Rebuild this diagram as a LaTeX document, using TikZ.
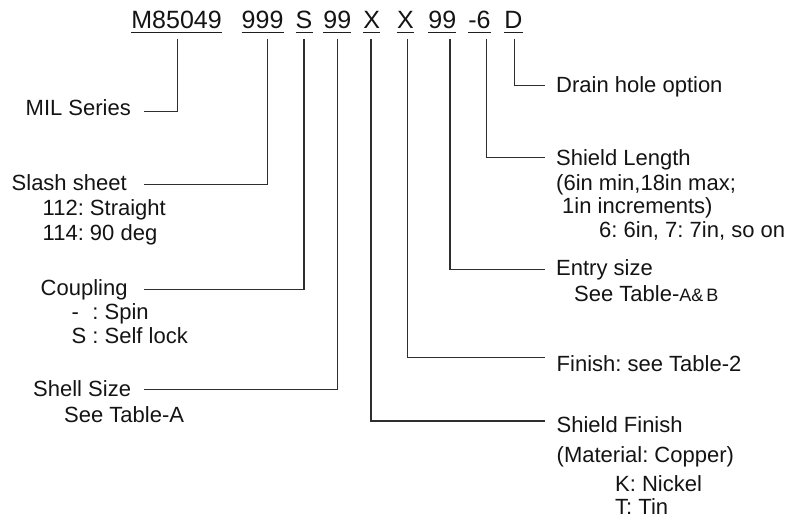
\documentclass[tikz,border=0pt]{standalone}
\usepackage{fontspec}
\setmainfont{Liberation Sans}
\frenchspacing
\begin{document}
\begin{tikzpicture}[x=1pt,y=-1pt,
  codetext/.style={anchor=base west,inner sep=0pt,font=\fontsize{25}{28}\selectfont,text=black!92},
  labeltext/.style={anchor=base west,inner sep=0pt,font=\fontsize{22}{25}\selectfont,text=black!92},
  uline/.style={line width=1.5pt,black!88},
  leader/.style={line width=1.4pt,black!82}]
\useasboundingbox (0,0) rectangle (796,519);
\fill[white] (0,0) rectangle (796,519);
% code row
\node[codetext] (cM)  at (131.2,28.5) {M85049};
\node[codetext] (cSl) at (241.5,28.5) {999};
\node[codetext] (cS)  at (295.5,28.5) {S};
\node[codetext] (cSz) at (323.2,28.5) {99};
\node[codetext] (cX1) at (363.2,28.5) {X};
\node[codetext] (cX2) at (396.8,28.5) {X};
\node[codetext] (cEn) at (428.2,28.5) {99};
\node[codetext] (cLn) at (468.2,28.5) {-6};
\node[codetext] (cD)  at (504.2,28.5) {D};
\foreach \n in {cM,cSl,cS,cSz,cX1,cX2,cEn,cLn,cD}
  \draw[uline] ([yshift=-4pt]\n.base west) -- ([yshift=-4pt]\n.base east);
% leader start points
\coordinate (tM)  at (177.7,39);
\coordinate (tSl) at (267.5,39);
\coordinate (tS)  at (304,39);
\coordinate (tSz) at (337.7,39);
\coordinate (tX1) at (371,39);
\coordinate (tX2) at (407.7,39);
\coordinate (tEn) at (450,39);
\coordinate (tLn) at (486.5,39);
\coordinate (tD)  at (514.3,39);
% leader end points
\coordinate (eMil)  at (144,111.5);
\coordinate (eSl)   at (144,184.5);
\coordinate (eCp)   at (144,289.3);
\coordinate (eSz)   at (144,389.3);
\coordinate (eDr)   at (545,85.5);
\coordinate (eLn)   at (545,157.5);
\coordinate (eEn)   at (545,269.3);
\coordinate (eFi)   at (545,357.5);
\coordinate (eSf)   at (545,421);
% left labels
\node[labeltext] (lMil) at (25.5,115) {MIL Series};
\node[labeltext] (lSl)  at (11.5,190) {Slash sheet};
\node[labeltext] (lSl1) at (42.5,215) {112: Straight};
\node[labeltext] (lSl2) at (42.5,240) {114: 90 deg};
\node[labeltext] (lCp)  at (40.5,295) {Coupling};
\node[labeltext] (lCp1) at (71.5,319) {\rlap{-}\phantom{S} : Spin};
\node[labeltext] (lCp2) at (71.5,343.5) {S : Self lock};
\node[labeltext] (lSz)  at (33,396.5) {Shell Size};
\node[labeltext] (lSz1) at (64,422) {See Table-A};
% right labels
\node[labeltext] (lDr)  at (556,93) {Drain hole option};
\node[labeltext] (lLn)  at (556,165) {Shield Length};
\node[labeltext] (lLn1) at (556,190) {(6in min,18in max;};
\node[labeltext] (lLn2) at (562,213) {1in increments)};
\node[labeltext] (lLn3) at (599,237) {6: 6in, 7: 7in, so on};
\node[labeltext] (lEn)  at (556,275.5) {Entry size};
\node[labeltext] (lEn1) at (574,301) {See Table-{\fontsize{18}{20}\selectfont A\&\,B}};
\node[labeltext] (lFi)  at (556.5,371.7) {Finish: see Table-2};
\node[labeltext] (lSf)  at (556.5,432) {Shield Finish};
\node[labeltext] (lSf1) at (556.5,462) {(Material: Copper)};
\node[labeltext] (lSf2) at (615,491) {K: Nickel};
\node[labeltext] (lSf3) at (615,514.5) {T: Tin};
% leaders
\draw[leader] (tM)  |- (eMil);
\draw[leader] (tSl) |- (eSl);
\draw[leader] (tS)  |- (eCp);
\draw[leader] (tSz) |- (eSz);
\draw[leader] (tX1) |- (eSf);
\draw[leader] (tX2) |- (eFi);
\draw[leader] (tEn) |- (eEn);
\draw[leader] (tLn) |- (eLn);
\draw[leader] (tD)  |- (eDr);
\end{tikzpicture}
\end{document}
